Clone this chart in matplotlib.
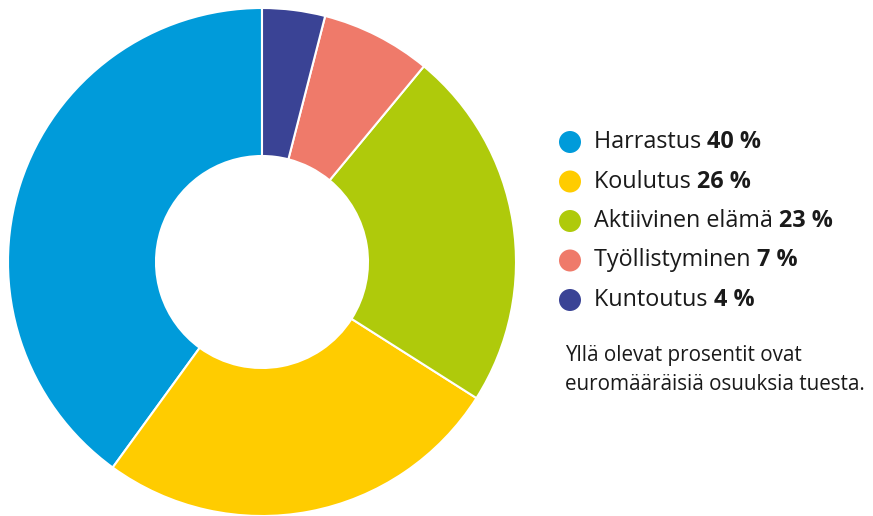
import matplotlib
matplotlib.use("Agg")
import matplotlib.pyplot as plt
from matplotlib.patches import Circle

labels = ["Harrastus", "Koulutus", "Aktiivinen elämä", "Työllistyminen", "Kuntoutus"]
values = [40, 26, 23, 7, 4]
colors = ["#009bda", "#ffcc00", "#afca0b", "#ef7a6a", "#3a4395"]
note = "Yllä olevat prosentit ovat\neuromääräisiä osuuksia tuesta."

W, H = 873, 516
fig = plt.figure(figsize=(W / 100, H / 100), dpi=100)
ax = fig.add_axes([0, 0, 1, 1])
ax.set_xlim(0, W)
ax.set_ylim(0, H)
ax.set_aspect("equal")
ax.axis("off")

# donitsi
ax.pie(values, colors=colors, startangle=90, counterclock=True,
       center=(262, H - 262), radius=254,
       wedgeprops=dict(width=254 - 106, edgecolor="white", linewidth=1.5))
ax.set_xlim(0, W)
ax.set_ylim(0, H)

# selite
font = "Open Sans"
fig.canvas.draw()
renderer = fig.canvas.get_renderer()
y0 = H - 142
step = 39.5
for i, (lab, val, col) in enumerate(zip(labels, values, colors)):
    y = y0 - i * step
    ax.add_patch(Circle((570, y), 11, color=col, lw=0))
    t = ax.text(594, y, lab + " ", fontsize=16.8, family=font, va="center",
                color="#1a1a1a")
    bb = t.get_window_extent(renderer=renderer)
    x_end = ax.transData.inverted().transform((bb.x1, bb.y0))[0]
    ax.text(x_end, y, f"{val} %", fontsize=16.8, family=font, va="center",
            fontweight="bold", color="#1a1a1a")

ax.text(565, H - 370, note, fontsize=14.9, family=font, va="center",
        color="#1a1a1a", linespacing=1.55)

fig.savefig("out.png", dpi=100)
